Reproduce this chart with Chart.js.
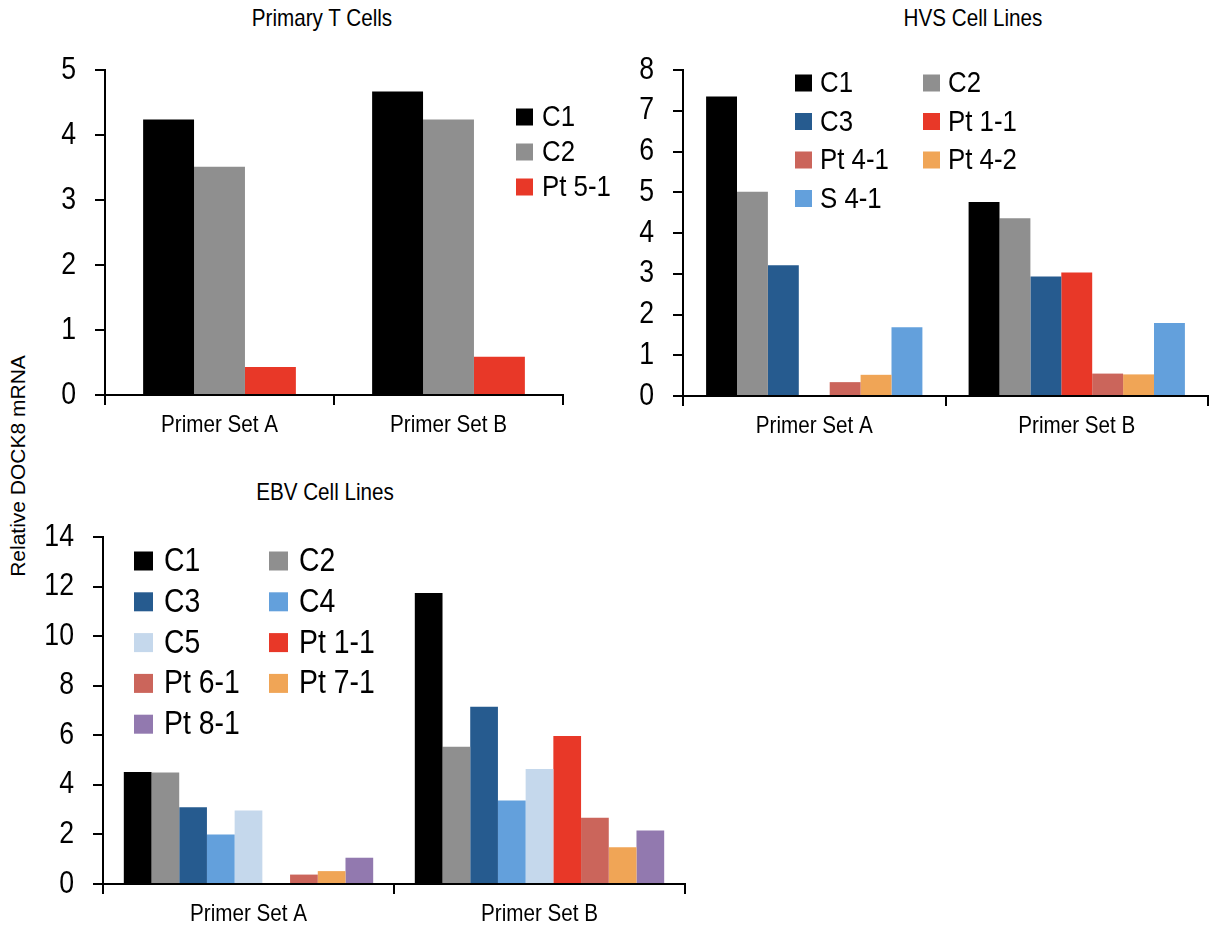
<!DOCTYPE html>
<html><head><meta charset="utf-8">
<script src="https://cdn.jsdelivr.net/npm/chart.js@4.4.0/dist/chart.umd.min.js"></script>
<style>
body{margin:0;background:#fff;width:1209px;height:930px;position:relative;overflow:hidden;}
canvas{position:absolute;}
.t{position:absolute;font-family:'Liberation Sans',Arial,sans-serif;font-size:24px;line-height:28px;color:#000;white-space:nowrap;transform:translateX(-50%) scaleX(0.86);}
#ytitle{position:absolute;font-family:'Liberation Sans',Arial,sans-serif;font-size:21px;line-height:24px;left:18px;top:466px;transform:translate(-50%,-50%) rotate(-90deg);white-space:nowrap;color:#000;}
</style></head>
<body>
<div class="t" style="left:322px;top:4px">Primary T Cells</div>
<div class="t" style="left:973px;top:4px">HVS Cell Lines</div>
<div class="t" style="left:325px;top:478px">EBV Cell Lines</div>
<div id="ytitle">Relative DOCK8 mRNA</div>
<canvas id="c1" width="640" height="460" style="left:0;top:0"></canvas>
<canvas id="c2" width="589" height="460" style="left:620px;top:0"></canvas>
<canvas id="c3" width="700" height="470" style="left:0;top:460px"></canvas>
<script>
// ---- data ----
const categories = ['Primer Set A', 'Primer Set B'];

// Primary T Cells
const tC1   = [4.24, 4.67];
const tC2   = [3.51, 4.24];
const tPt51 = [0.43, 0.59];

// HVS Cell Lines
const hvsC1   = [7.35, 4.76];
const hvsC2   = [5.01, 4.36];
const hvsC3   = [3.21, 2.93];
const hvsPt11 = [null, 3.03];
const hvsPt41 = [0.34, 0.55];
const hvsPt42 = [0.52, 0.53];
const hvsS41  = [1.69, 1.79];

// EBV Cell Lines
const ebvC1   = [4.52, 11.74];
const ebvC2   = [4.50, 5.54];
const ebvC3   = [3.10, 7.15];
const ebvC4   = [2.00, 3.37];
const ebvC5   = [2.97, 4.64];
const ebvPt11 = [null, 5.97];
const ebvPt61 = [0.38, 2.67];
const ebvPt71 = [0.52, 1.48];
const ebvPt81 = [1.06, 2.16];

// ---- styles ----
const COL = {
  black:'#000000', gray:'#8f8f8f', dblue:'#265b8f', red:'#e83828',
  salmon:'#cb655b', orange:'#f0a556', lblue:'#63a0dc', vlblue:'#c5d8ec', purple:'#9279af'
};
const FONT = "'Liberation Sans',Arial,sans-serif";
const SX = 0.86; // condensed look of the original typeface

function condensedContext(id) {
  const ctx = document.getElementById(id).getContext('2d');
  const orig = ctx.fillText.bind(ctx);
  ctx.fillText = function (text, x, y, maxWidth) {
    this.save();
    this.translate(x, y);
    this.scale(SX, 1);
    orig(text, 0, 0);
    this.restore();
  };
  return ctx;
}

const gridLegend = {
  id: 'gridLegend',
  afterDraw(chart, args, o) {
    const ctx = chart.ctx;
    ctx.save();
    ctx.font = o.fontSize + 'px ' + FONT;
    ctx.textBaseline = 'middle';
    ctx.textAlign = 'left';
    chart.data.datasets.forEach((ds, i) => {
      const col = i % o.cols, row = Math.floor(i / o.cols);
      const x = o.x + col * o.colW, y = o.y + row * o.rowH;
      ctx.fillStyle = ds.backgroundColor;
      ctx.fillRect(x, y - o.box / 2, o.box, o.box);
      ctx.fillStyle = '#000';
      ctx.fillText(ds.label, x + o.textOff, y + 1);
    });
    ctx.restore();
  }
};

function makeChart(id, datasets, cfg) {
  return new Chart(condensedContext(id), {
    type: 'bar',
    data: { labels: categories, datasets: datasets.map(d => ({
      label: d[0], data: d[1], backgroundColor: d[2], borderWidth: 0,
      barPercentage: 1.0, categoryPercentage: cfg.catPct
    })) },
    options: {
      responsive: false, animation: false, devicePixelRatio: 1,
      layout: { padding: cfg.padding },
      plugins: { legend: { display: false }, tooltip: { enabled: false }, gridLegend: cfg.legend },
      scales: {
        x: {
          grid: { drawOnChartArea: false, drawTicks: true, tickLength: 10, color: '#000', lineWidth: 2, offset: true },
          border: { display: true, color: '#000', width: 2 },
          ticks: { color: '#000', padding: 6, font: { family: FONT, size: 24 } },
          afterFit: s => { s.height = cfg.xH; }
        },
        y: {
          min: 0, max: cfg.max,
          grid: { drawOnChartArea: false, drawTicks: true, tickLength: 10, color: '#000', lineWidth: 2 },
          border: { display: true, color: '#000', width: 2 },
          ticks: { stepSize: cfg.step, color: '#000', padding: 19, font: { family: FONT, size: 31 } },
          afterFit: s => { s.width = cfg.yW; }
        }
      }
    },
    plugins: [gridLegend]
  });
}

makeChart('c1', [
  ['C1', tC1, COL.black], ['C2', tC2, COL.gray], ['Pt 5-1', tPt51, COL.red]
], { catPct: 0.667, max: 5, step: 1, yW: 105, xH: 65,
     padding: { top: 70, right: 77, left: 0, bottom: 0 },
     legend: { x: 516, y: 117, cols: 1, colW: 0, rowH: 35, box: 17, textOff: 26, fontSize: 30 } });

makeChart('c2', [
  ['C1', hvsC1, COL.black], ['C2', hvsC2, COL.gray], ['C3', hvsC3, COL.dblue],
  ['Pt 1-1', hvsPt11, COL.red], ['Pt 4-1', hvsPt41, COL.salmon], ['Pt 4-2', hvsPt42, COL.orange],
  ['S 4-1', hvsS41, COL.lblue]
], { catPct: 0.824, max: 8, step: 1, yW: 63, xH: 64,
     padding: { top: 70, right: 1, left: 0, bottom: 0 },
     legend: { x: 175, y: 83, cols: 2, colW: 128, rowH: 38.5, box: 17, textOff: 25, fontSize: 30 } });

makeChart('c3', [
  ['C1', ebvC1, COL.black], ['C2', ebvC2, COL.gray], ['C3', ebvC3, COL.dblue],
  ['C4', ebvC4, COL.lblue], ['C5', ebvC5, COL.vlblue], ['Pt 1-1', ebvPt11, COL.red],
  ['Pt 6-1', ebvPt61, COL.salmon], ['Pt 7-1', ebvPt71, COL.orange], ['Pt 8-1', ebvPt81, COL.purple]
], { catPct: 0.857, max: 14, step: 2, yW: 103, xH: 46,
     padding: { top: 77, right: 15, left: 0, bottom: 0 },
     legend: { x: 134, y: 101, cols: 2, colW: 135, rowH: 40.8, box: 19, textOff: 30, fontSize: 33 } });
</script>
</body></html>
